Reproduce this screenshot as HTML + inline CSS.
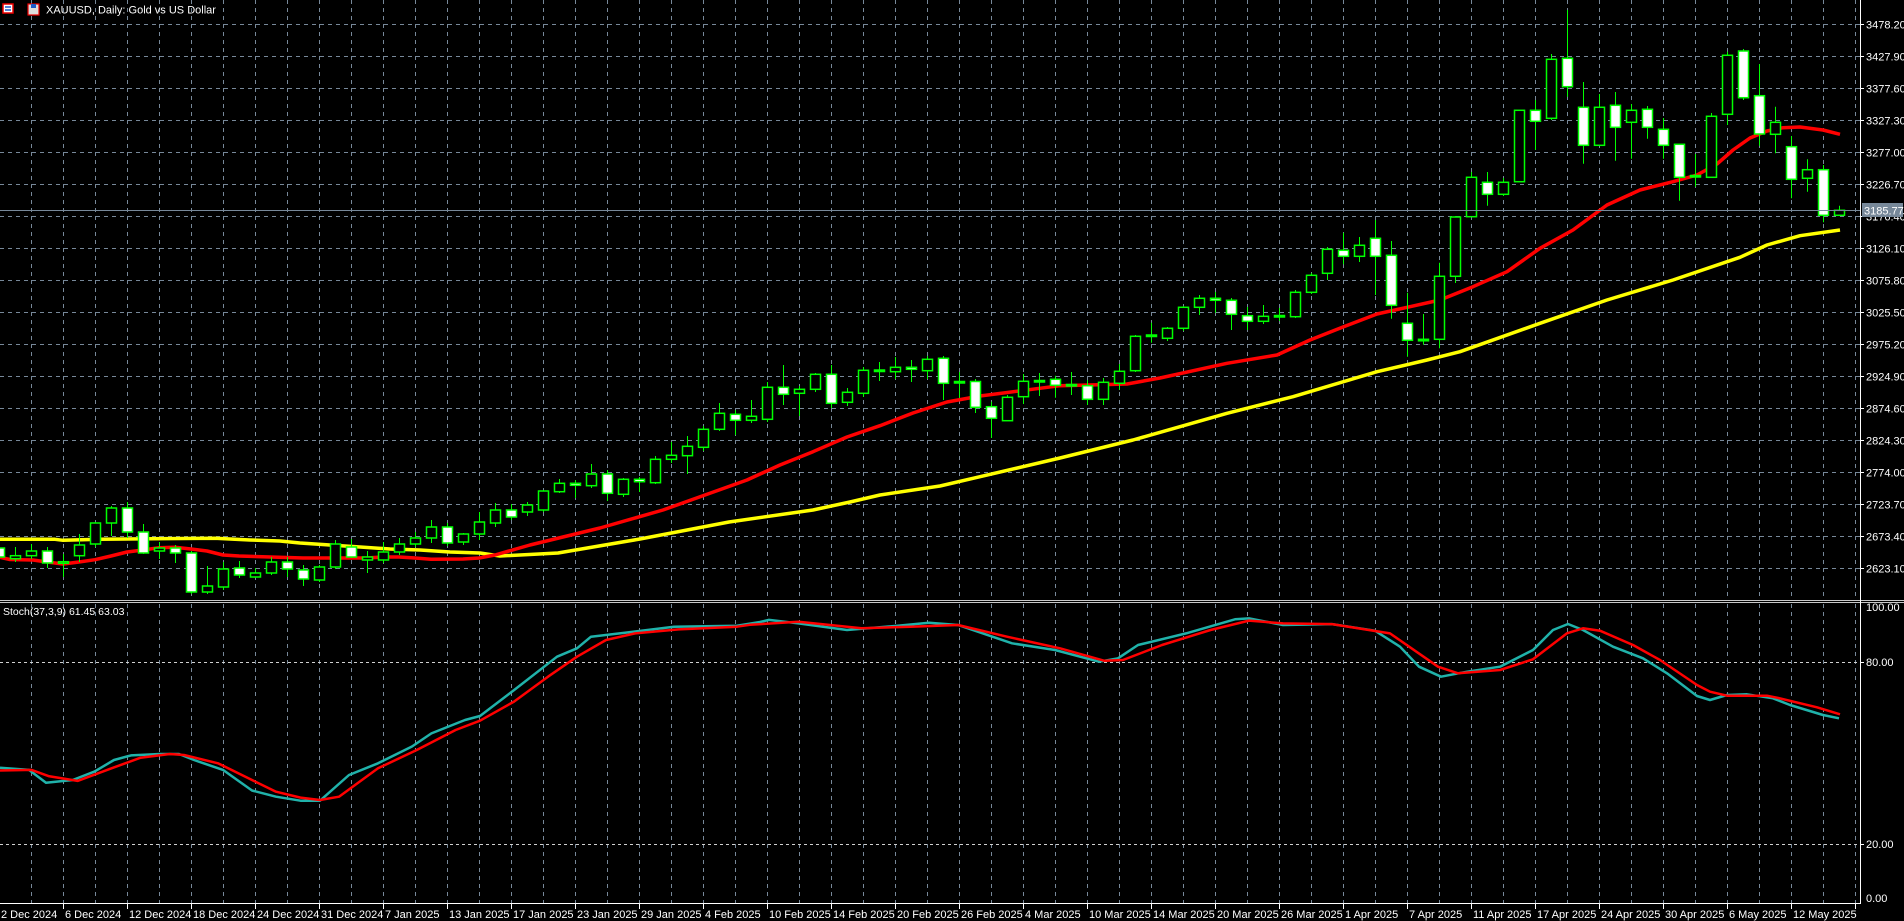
<!DOCTYPE html>
<html><head><meta charset="utf-8"><style>
html,body{margin:0;padding:0;background:#000;width:1904px;height:921px;overflow:hidden}
svg{display:block}
text{font-family:"Liberation Sans",sans-serif;font-size:11px;fill:#fff}
</style></head><body>
<svg id="s" width="1904" height="921" xmlns="http://www.w3.org/2000/svg">
<g id="grid"></g>
<g id="ma"></g>
<g id="cdl"></g>
<line x1="0" y1="210.5" x2="1860" y2="210.5" stroke="#778899" stroke-width="1"/>
<line x1="0" y1="600.5" x2="1904" y2="600.5" stroke="#c8c8c8"/>
<line x1="0" y1="602.5" x2="1904" y2="602.5" stroke="#c8c8c8"/>
<line x1="1860.5" y1="0" x2="1860.5" y2="904" stroke="#fff"/>
<line x1="0" y1="903.5" x2="1861" y2="903.5" stroke="#fff"/>
<g id="ticks"></g>
<g id="st"></g>
<rect x="3" y="4" width="10" height="9" fill="#fff" stroke="#e00" stroke-width="1.5"/>
<line x1="5" y1="7" x2="11" y2="7" stroke="#1a5ac8" stroke-width="1.5"/>
<line x1="5" y1="10" x2="11" y2="10" stroke="#1a5ac8" stroke-width="1.5"/>
<rect x="28" y="4" width="11" height="11" fill="#ddd" stroke="#e00" stroke-width="1.2"/>
<rect x="31" y="4" width="5" height="4" fill="#1a5ac8"/>
<text x="46" y="13.5">XAUUSD, Daily:  Gold vs US Dollar</text>
<text x="3" y="615" style="font-size:10.5px">Stoch(37,3,9) 61.45 63.03</text>
<g style="font-size:10px">
<text x="1866" y="28.3">3478.20</text><text x="1866" y="60.3">3427.90</text><text x="1866" y="92.3">3377.60</text>
<text x="1866" y="124.3">3327.30</text><text x="1866" y="156.3">3277.00</text><text x="1866" y="188.3">3226.70</text>
<text x="1866" y="220.3">3176.40</text><text x="1866" y="252.3">3126.10</text><text x="1866" y="284.3">3075.80</text>
<text x="1866" y="316.3">3025.50</text><text x="1866" y="348.3">2975.20</text><text x="1866" y="380.3">2924.90</text>
<text x="1866" y="412.3">2874.60</text><text x="1866" y="444.3">2824.30</text><text x="1866" y="476.3">2774.00</text>
<text x="1866" y="508.3">2723.70</text><text x="1866" y="540.3">2673.40</text><text x="1866" y="572.3">2623.10</text>
<rect x="1862" y="203" width="41" height="14" fill="#778899"/>
<text x="1864" y="214.3">3185.77</text>
<text x="1866" y="611">100.00</text><text x="1866" y="666">80.00</text>
<text x="1866" y="848">20.00</text><text x="1866" y="902">0.00</text>
</g>
<g style="font-size:10px">
<text x="1" y="918">2 Dec 2024</text><text x="65" y="918">6 Dec 2024</text><text x="129" y="918">12 Dec 2024</text>
<text x="193" y="918">18 Dec 2024</text><text x="257" y="918">24 Dec 2024</text><text x="321" y="918">31 Dec 2024</text>
<text x="385" y="918">7 Jan 2025</text><text x="449" y="918">13 Jan 2025</text><text x="513" y="918">17 Jan 2025</text>
<text x="577" y="918">23 Jan 2025</text><text x="641" y="918">29 Jan 2025</text><text x="705" y="918">4 Feb 2025</text>
<text x="769" y="918">10 Feb 2025</text><text x="833" y="918">14 Feb 2025</text><text x="897" y="918">20 Feb 2025</text>
<text x="961" y="918">26 Feb 2025</text><text x="1025" y="918">4 Mar 2025</text><text x="1089" y="918">10 Mar 2025</text>
<text x="1153" y="918">14 Mar 2025</text><text x="1217" y="918">20 Mar 2025</text><text x="1281" y="918">26 Mar 2025</text>
<text x="1345" y="918">1 Apr 2025</text><text x="1409" y="918">7 Apr 2025</text><text x="1473" y="918">11 Apr 2025</text>
<text x="1537" y="918">17 Apr 2025</text><text x="1601" y="918">24 Apr 2025</text><text x="1665" y="918">30 Apr 2025</text>
<text x="1729" y="918">6 May 2025</text><text x="1793" y="918">12 May 2025</text>
</g>
</svg>
<script>
var NS="http://www.w3.org/2000/svg";
function el(p,n,a){var e=document.createElementNS(NS,n);for(var k in a)e.setAttribute(k,a[k]);p.appendChild(e);return e;}
var G=document.getElementById('grid'),T=document.getElementById('ticks');
for(var x=31;x<1860;x+=32){el(G,'line',{x1:x+.5,y1:0,x2:x+.5,y2:600,stroke:'#778899','stroke-dasharray':'4,4'});
 el(G,'line',{x1:x+.5,y1:604,x2:x+.5,y2:903,stroke:'#778899','stroke-dasharray':'4,4'});}
for(var j=0;j<18;j++){var y=Math.round(24.3+32*j)+.5;el(G,'line',{x1:0,y1:y,x2:1860,y2:y,stroke:'#778899','stroke-dasharray':'4,4'});
 el(T,'line',{x1:1860,y1:y,x2:1864,y2:y,stroke:'#fff'});}
[662.5,844.5].forEach(function(y){el(G,'line',{x1:0,y1:y,x2:1860,y2:y,stroke:'#d0d0d0','stroke-dasharray':'3,3'});el(T,'line',{x1:1860,y1:y,x2:1864,y2:y,stroke:'#fff'});});
for(var x=-1;x<1860;x+=64){el(T,'line',{x1:x+.5,y1:904,x2:x+.5,y2:909,stroke:'#fff'});}
function pl(p,pts,c,w){el(p,'polyline',{points:pts.map(function(q){return q.join(',')}).join(' '),fill:'none',stroke:c,'stroke-width':w,'stroke-linejoin':'round'});}
var M=document.getElementById('ma');
pl(M,[[0,539.3],[55,539.3],[63,540.3],[100,539.3],[150,538.7],[215,538.3],[250,540],[280,541],[300,543],[330,545],[360,547],[390,549],[420,550],[450,552],[480,553],[500,556],[558,553],[640,539],[729,522],[813,510],[850,502],[880,495],[940,486],[980,476.7],[1060,458],[1133,440],[1227,413.3],[1293,396.7],[1377,371.7],[1427,360],[1460,351.7],[1540,323.3],[1607,300],[1673,280],[1740,257.3],[1767,245],[1800,235.7],[1840,230]],'#ffff00',3.5);
pl(M,[[0,557.3],[10,559.5],[33,560],[47,562],[63,564],[79,562],[95,559.7],[111,556],[127,552],[143,550],[159,547.7],[175,547.3],[191,549],[207,551],[223,555],[239,556],[303,558],[367,558],[383,557],[399,557],[415,558],[431,559.3],[463,559],[479,558],[495,555],[530,545],[600,528],[663,510],[747,480],[780,465],[813,451.7],[847,437],[880,425.7],[913,413],[947,402],[980,396],[1060,385.7],[1127,384],[1160,378],[1227,363.3],[1277,355],[1310,340],[1343,327],[1377,314],[1410,306.7],[1440,300],[1473,286.7],[1507,271.7],[1540,248.3],[1573,230],[1607,205],[1640,190],[1673,181.7],[1697,175],[1717,164],[1733,150],[1750,138],[1767,131],[1783,127.7],[1800,127],[1823,130],[1840,134.3]],'#ff0000',3.5);
var D=[[0,'w',548,557,545,560],[1,'b',555.7,558.7,547,562],[2,'b',551,555.7,544,559],[3,'w',551,563,547,568],[4,'b',561.7,563.3,554,577],[5,'b',545,555.7,534,562],[6,'b',523,544,522,547],[7,'b',508,523,506,536],[8,'w',508,532,502,538],[9,'w',532,553,524,554],[10,'b',548,551,542,559],[11,'w',548,553,545,563],[12,'w',553,592,551,594],[13,'b',586,592,566,594],[14,'b',569,587,562,590],[15,'w',568,575,561,578],[16,'b',573,577,568,578],[17,'b',562,573,557,575],[18,'w',562,569,557,577],[19,'w',570,579,565,586],[20,'b',567,580,565,582],[21,'b',544,567,540,569],[22,'w',547,557,539,558],[23,'b',557,560,551,573],[24,'b',552,560,542,563],[25,'b',544,552,538,555],[26,'b',538,544,532,547],[27,'b',527,538,520,543],[28,'w',527,543,523,546],[29,'b',534,542,533,545],[30,'b',522,534,512,540],[31,'b',510,523,503,527],[32,'w',510,517,504,520],[33,'b',505,512,502,516],[34,'b',491,510,490,512],[35,'b',483.3,491.7,479,493],[36,'w',483.3,485.3,480,498],[37,'b',474,485.7,464,488],[38,'w',474,493.3,470,501],[39,'b',479.3,494.3,478,497],[40,'w',479.3,481.7,477,492],[41,'b',459.3,482.7,456,484],[42,'b',455.3,459.3,442,463],[43,'b',446.3,455.7,436,474],[44,'b',429.3,447.3,426,451],[45,'b',413.3,429.3,403,431],[46,'w',414.3,420.3,410,435],[47,'b',416.3,420.3,400,423],[48,'b',387.3,419.3,382,422],[49,'w',387.3,394.3,365,405],[50,'b',389.3,393.3,386,416],[51,'b',374.3,389.3,373,392],[52,'w',374.3,403.3,365,408],[53,'b',392.3,402.3,388,406],[54,'b',370.3,393.3,367,397],[55,'b',370,371.5,362,381],[56,'b',367.3,371.7,357,379],[57,'w',367.3,369.3,360,382],[58,'b',359.3,370.7,356,379],[59,'w',358.3,383.3,356,400],[60,'b',381.5,383,372,398],[61,'w',381.5,407.3,379,413],[62,'w',406.7,418.3,401.7,438],[63,'b',397.3,420.7,395,421],[64,'b',381.3,396.7,374,404],[65,'b',380.5,382,373,396],[66,'w',379.3,385.3,375.7,397.7],[67,'b',384.5,386,372,395],[68,'w',385.7,399.3,380,405],[69,'b',382.3,399.3,378,405],[70,'b',371.3,383.3,364,390],[71,'b',336.3,370.7,335,372],[72,'b',335,336.5,322.7,342.7],[73,'b',328.3,338.3,327,341],[74,'b',307.3,328.3,306,331],[75,'b',298.3,307.3,295,315],[76,'w',298.3,300.3,292,312.7],[77,'w',300.3,314.3,298,330],[78,'w',315.7,321.3,307,330],[79,'b',316.3,321.3,305,324],[80,'b',315.5,317,308,321],[81,'b',292.3,316.7,290,318],[82,'b',275.3,292.3,273,294],[83,'b',249.3,273.3,247,280],[84,'w',250.3,256.3,232.7,264.3],[85,'b',245.3,256.3,237,262],[86,'w',238.3,256.3,220,295],[87,'w',255.3,305.3,241,318.7],[88,'w',323.3,340.3,292.7,356.7],[89,'b',339.3,340.8,314,344.7],[90,'b',276.3,339.3,262.7,348.3],[91,'b',217,276.3,216,283],[92,'b',177.3,216.7,172,217],[93,'w',182.3,194.3,172,205.7],[94,'b',182.3,194.3,178,196],[95,'b',110.3,181.7,110,182],[96,'w',110.3,121.3,100,150],[97,'b',59.3,118.3,54,120],[98,'w',58.3,86.7,10,96.7],[99,'w',107.3,145.3,82,163.7],[100,'b',107.3,145.3,94,145.3],[101,'w',105.3,127.3,92,160.7],[102,'b',110.3,122.3,104,158.7],[103,'w',109.3,127.3,106,138.7],[104,'w',129.3,145.3,118,158.7],[105,'w',144.3,177.3,144,200.7],[106,'b',175.5,177,154,186.7],[107,'b',116.3,177.3,113,178],[108,'b',55.3,114.3,51.7,125],[109,'w',51,97.7,49,100],[110,'w',95.7,134,64,145.7],[111,'b',122.3,134.3,106.7,153.3],[112,'w',146.7,179.3,136,198.3],[113,'b',169.7,178.3,159.3,191.7],[114,'w',169.7,215.3,165,222.3],[115,'b',210.3,215.3,205.7,215.3]];
var C=document.getElementById('cdl');
D.forEach(function(d){var c=-1+16*d[0];
 el(C,'line',{x1:c+.5,y1:d[4],x2:c+.5,y2:d[5],stroke:'#00ff00','stroke-width':1});
 var h=Math.max(d[3]-d[2],1.5);
 el(C,'rect',{x:c-4.5,y:d[2],width:10,height:h,fill:d[1]=='w'?'#fff':'#000',stroke:'#00ff00','stroke-width':1.5});});
var S=document.getElementById('st');
function fx(a){return a.map(function(p){return p[0]<1500?[p[0],+(600+(p[1]-600)*0.6877).toFixed(1)]:p;});}
pl(S,fx([[0,843.8],[29,847],[46,865.6],[72.7,861.8],[94.5,849.6],[114,832.7],[131,826],[160,824],[179,824],[194,832.7],[223,847],[252,877],[276,886],[300.5,891.8],[320,891.8],[349,854.5],[378,837.5],[412,813],[431.4,794],[465,774.5],[480,768.7],[514,731],[557,682.4],[577,670.3],[591,653.3],[625,647.5],[674,638.8],[737,637.3],[760,632],[769,629],[798.5,634],[847,643.6],[895,637.8],[929,633],[958,636.4],[1012,663],[1055,672.7],[1099,689.7],[1118,684.8],[1138,665.4],[1186,648.5],[1235,628],[1249,626.7],[1283,636.4],[1332,635],[1375,644.6],[1400,667.9],[1419,697],[1441,711.5],[1467,704.2],[1500,666.7],[1533,650],[1553,630],[1568,624],[1583,630],[1613,646.7],[1643,658.3],[1667,673.3],[1697,696],[1710,700],[1727,695],[1747,694.3],[1773,698.3],[1790,705],[1823,715],[1839,718.3]]),'#20b2aa',2.5);
pl(S,fx([[0,848],[31.5,847],[48.5,856],[77.6,863],[111.5,844.8],[140.6,829.3],[169.7,824],[184,825.4],[218,837.5],[252,861.8],[276,878.7],[300.5,887.4],[320,890.8],[339,886],[378,844.8],[417,818],[455.6,789],[480,775.5],[514,747.8],[548,711.5],[577,682.4],[606,658.2],[635,648.5],[678.6,642.7],[737,638.8],[750,636],[798.5,631.5],[861.5,641.2],[910,638.8],[958,636.4],[1007,653.3],[1060,670.3],[1104,688.2],[1123,687.3],[1162,665.4],[1210.5,643.6],[1249,630],[1283,634],[1332,635],[1390,648.5],[1438,697],[1458,706.6],[1500,670],[1533,659.3],[1567,633.3],[1583,628.3],[1600,630.7],[1633,645],[1660,660],[1697,685],[1710,691.7],[1727,695.7],[1767,695.7],[1777,697.7],[1817,707.3],[1840,714.3]]),'#ff0000',2.5);
</script>
</body></html>
